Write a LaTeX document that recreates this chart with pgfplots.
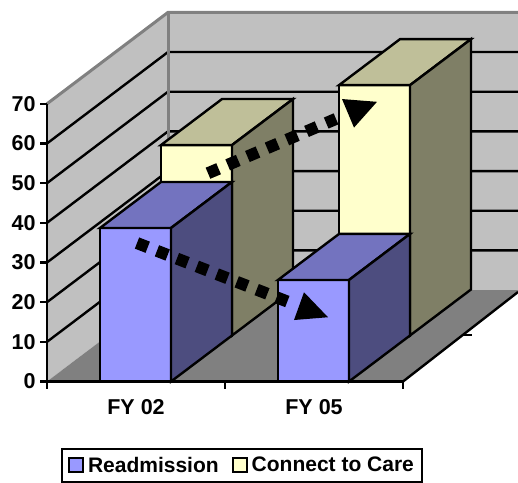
\documentclass[border=0pt]{standalone}
\usepackage{fontspec}
\setmainfont{Liberation Sans}
\usepackage{pgfplots}
\pgfplotsset{compat=1.18}
\definecolor{wallc}{HTML}{C0C0C0}
\definecolor{floorc}{HTML}{808080}
\definecolor{bluef}{HTML}{9999FF}
\definecolor{bluet}{HTML}{7373BF}
\definecolor{blues}{HTML}{4D4D7F}
\definecolor{yelf}{HTML}{FFFFCC}
\definecolor{yelt}{HTML}{BFBF99}
\definecolor{yels}{HTML}{7F7F66}
\begin{document}
\begin{tikzpicture}[x=1pt,y=1pt]
\path[use as bounding box] (0,0) rectangle (518,482);
\begin{axis}[
  at={(0pt,0pt)}, anchor=south west,
  width=518pt, height=482pt, scale only axis,
  xmin=0, xmax=518, ymin=-25.33, ymax=96.17,
  axis lines=none, clip=true,
  every axis plot/.append style={no markers},
]
% walls
\addplot[fill=wallc,draw=none] coordinates {(47,0)(47,70)(168,93.05)(168,23.05)} --cycle;
\addplot[fill=wallc,draw=none] coordinates {(168,23.05)(168,93.05)(518,93.05)(518,23.05)} --cycle;
% grid
\addplot[black,line width=2.4pt] coordinates {(47,10)(168,33.05)(518,33.05)};
\addplot[black,line width=2.4pt] coordinates {(47,20)(168,43.05)(518,43.05)};
\addplot[black,line width=2.4pt] coordinates {(47,30)(168,53.05)(518,53.05)};
\addplot[black,line width=2.4pt] coordinates {(47,40)(168,63.05)(518,63.05)};
\addplot[black,line width=2.4pt] coordinates {(47,50)(168,73.05)(518,73.05)};
\addplot[black,line width=2.4pt] coordinates {(47,60)(168,83.05)(518,83.05)};
\addplot[floorc,line width=3pt] coordinates {(47,70)(168,93.05)(518,93.05)};
\addplot[floorc,line width=3pt] coordinates {(168,93.05)(168,23.05)};
% floor
\addplot[fill=floorc,draw=none] coordinates {(47,0)(168,23.05)(518,23.05)(518,22.56)(403,0)} --cycle;
\addplot[black,line width=2.4pt] coordinates {(403,0)(518,22.56)};
\addplot[black,line width=2.4pt] coordinates {(464,11.8)(472,11.8)};
% yellow bars
\addplot[fill=yelf,draw=black,line width=2.4pt] coordinates {(161,11.6)(232,11.6)(232,59.6)(161,59.6)} --cycle;
\addplot[fill=yelt,draw=black,line width=2.4pt] coordinates {(161,59.6)(232,59.6)(293,71.2)(222,71.2)} --cycle;
\addplot[fill=yels,draw=black,line width=2.4pt] coordinates {(232,11.6)(293,23.2)(293,71.2)(232,59.6)} --cycle;
\addplot[fill=yelf,draw=black,line width=2.4pt] coordinates {(339,11.6)(410,11.6)(410,74.7)(339,74.7)} --cycle;
\addplot[fill=yelt,draw=black,line width=2.4pt] coordinates {(339,74.7)(410,74.7)(471,86.3)(400,86.3)} --cycle;
\addplot[fill=yels,draw=black,line width=2.4pt] coordinates {(410,11.6)(471,23.2)(471,86.3)(410,74.7)} --cycle;
% blue bars
\addplot[fill=bluef,draw=black,line width=2.4pt] coordinates {(100,0)(171,0)(171,38.7)(100,38.7)} --cycle;
\addplot[fill=bluet,draw=black,line width=2.4pt] coordinates {(100,38.7)(171,38.7)(232,50.3)(161,50.3)} --cycle;
\addplot[fill=blues,draw=black,line width=2.4pt] coordinates {(171,0)(232,11.6)(232,50.3)(171,38.7)} --cycle;
\addplot[fill=bluef,draw=black,line width=2.4pt] coordinates {(278,0)(349,0)(349,25.6)(278,25.6)} --cycle;
\addplot[fill=bluet,draw=black,line width=2.4pt] coordinates {(278,25.6)(349,25.6)(410,37.2)(339,37.2)} --cycle;
\addplot[fill=blues,draw=black,line width=2.4pt] coordinates {(349,0)(410,11.6)(410,37.2)(349,25.6)} --cycle;
% arrows
\addplot[black,line width=12pt,dash pattern=on 11.5pt off 9.9pt] coordinates {(137,34.9)(290,19.9)};
\addplot[fill=black,draw=none] coordinates {(304,22.5)(328,16.2)(294,15.5)} --cycle;
\addplot[black,line width=12pt,dash pattern=on 11.5pt off 9.9pt] coordinates {(208,52.5)(336,66.2)};
\addplot[fill=black,draw=none] coordinates {(342,71.2)(377,70.5)(354,64)} --cycle;
\end{axis}
\begin{axis}[
  at={(47pt,100.5pt)}, anchor=south west,
  width=356pt, height=277.7pt, scale only axis,
  xmin=0, xmax=2, ymin=0, ymax=70,
  axis x line=bottom, axis y line=left,
  axis line style={black,line width=2.4pt,-},
  clip=false,
  font=\fontsize{21.5}{24}\selectfont\bfseries,
  /pgf/number format/assume math mode=true,
  ytick={0,10,...,70},
  xtick={0.5,1.5}, xticklabels={FY 02,FY 05},
  minor xtick={0,1,2},
  major x tick style={draw=none},
  minor tick length=7pt,
  major tick length=7pt,
  tick style={black,line width=2.4pt},
  tick align=outside,
  xticklabel style={yshift=-7pt},
  yticklabel style={xshift=-1pt},
  legend style={at={(axis cs:0.0787,-16.76)},anchor=north west,legend columns=2,
    draw=black,line width=2pt,font=\fontsize{21}{24}\selectfont\bfseries,
    inner xsep=6pt,inner ysep=6pt,
    /tikz/every odd column/.append style={column sep=2pt},
    /tikz/every even column/.append style={column sep=11pt}},
  legend cell align=left,
  legend image code/.code={\draw[#1,line width=2pt] (0pt,-7pt) rectangle (14pt,7pt);},
]
\addlegendimage{fill=bluef,draw=black}
\addlegendentry{Readmission}
\addlegendimage{fill=yelf,draw=black}
\addlegendentry{Connect to Care\hspace{9pt}}
\end{axis}
\end{tikzpicture}
\end{document}
